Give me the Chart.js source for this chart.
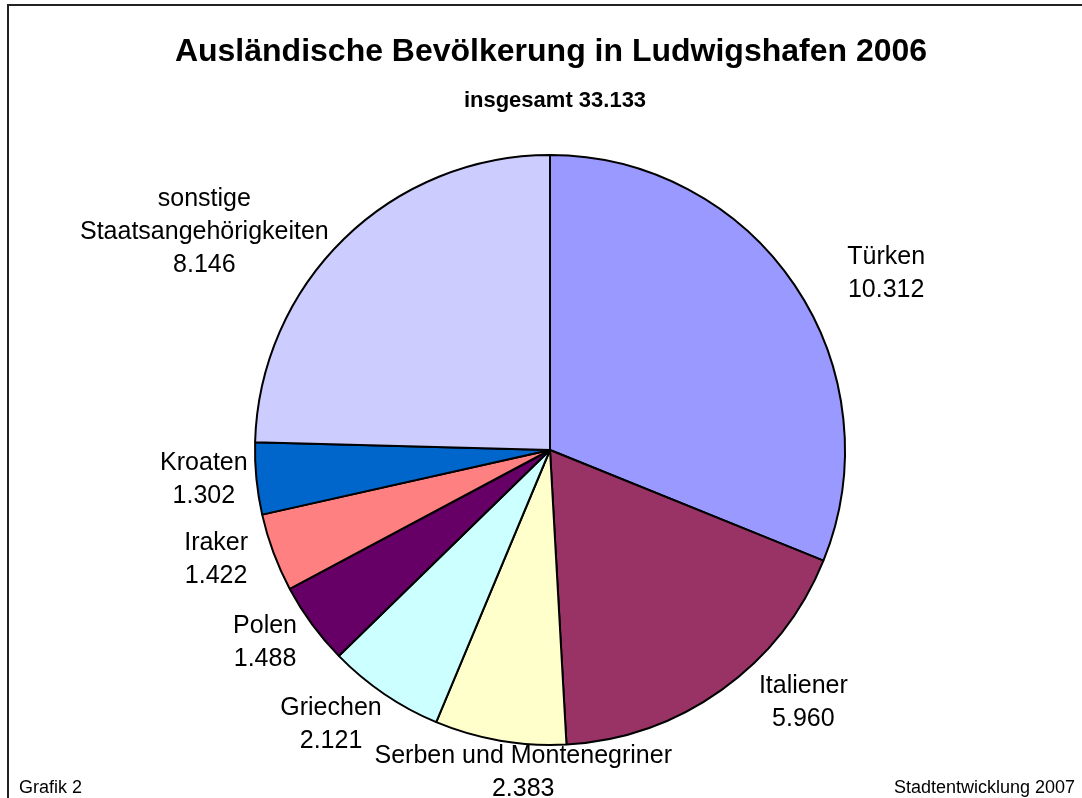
<!DOCTYPE html>
<html>
<head>
<meta charset="utf-8">
<script src="https://cdn.jsdelivr.net/npm/chart.js@4"></script>
<style>
  html, body { margin: 0; padding: 0; background: #fff; overflow: hidden; }
  canvas { display: block; }
</style>
</head>
<body>
<canvas id="chart" width="1082" height="798"></canvas>
<script>
const categories = [
  ["Türken"],
  ["Italiener"],
  ["Serben und Montenegriner"],
  ["Griechen"],
  ["Polen"],
  ["Iraker"],
  ["Kroaten"],
  ["sonstige", "Staatsangehörigkeiten"],
];
const values = [10312, 5960, 2383, 2121, 1488, 1422, 1302, 8146];
const colors = ["#9999FF", "#993366", "#FFFFCC", "#CCFFFF", "#660066", "#FF8080", "#0066CC", "#CCCCFF"];

const titleText = "Ausländische Bevölkerung in Ludwigshafen 2006";
const subtitleText = "insgesamt 33.133";
const footLeft = "Grafik 2";
const footRight = "Stadtentwicklung 2007";

const FONT = '"Liberation Sans", Arial, Helvetica, sans-serif';

// german thousands separator
const fmt = (n) => String(n).replace(/\B(?=(\d{3})+(?!\d))/g, ".");

// small hand nudges so labels sit where Excel put them
const labelNudge = [
  [51, 13], [50, -22], [50, -11], [-19, -5],
  [-13, -7], [-18, -8], [1, -3], [-46, 36],
];

const frameAndText = {
  id: "frameAndText",
  beforeDraw(chart) {
    const ctx = chart.ctx;
    ctx.save();
    ctx.fillStyle = "#fff";
    ctx.fillRect(0, 0, chart.width, chart.height);
    ctx.strokeStyle = "#222";
    ctx.lineWidth = 2;
    ctx.strokeRect(8, 5, 1200, 1000);
    ctx.restore();
  },
  afterDraw(chart) {
    const ctx = chart.ctx;
    ctx.save();
    ctx.fillStyle = "#000";
    ctx.textAlign = "center";
    ctx.textBaseline = "alphabetic";
    ctx.font = "bold 32px " + FONT;
    ctx.fillText(titleText, 551, 61);
    ctx.font = "bold 22px " + FONT;
    ctx.fillText(subtitleText, 555, 107);

    ctx.font = "18px " + FONT;
    ctx.textAlign = "left";
    ctx.fillText(footLeft, 19, 793);
    ctx.textAlign = "right";
    ctx.fillText(footRight, 1075, 793);
    ctx.restore();
  },
};

// labels outside the slices, placed from the arc geometry
const outsideLabels = {
  id: "outsideLabels",
  afterDatasetsDraw(chart) {
    const ctx = chart.ctx;
    const meta = chart.getDatasetMeta(0);
    const lineH = 33;
    const gap = 10;
    ctx.save();
    ctx.font = "25px " + FONT;
    ctx.fillStyle = "#000";
    ctx.textAlign = "center";
    ctx.textBaseline = "middle";
    meta.data.forEach((arc, i) => {
      const { x, y, startAngle, endAngle, outerRadius } = arc.getProps(
        ["x", "y", "startAngle", "endAngle", "outerRadius"], true);
      const mid = (startAngle + endAngle) / 2;
      const ux = Math.cos(mid);
      const uy = Math.sin(mid);
      const lines = [...chart.data.labels[i], fmt(values[i])];
      const w = Math.max(...lines.map((l) => ctx.measureText(l).width));
      const h = lines.length * lineH;
      const cx = x + (outerRadius + gap) * ux + (w / 2) * ux + labelNudge[i][0];
      const cy = y + (outerRadius + gap) * uy + (h / 2) * uy + labelNudge[i][1];
      lines.forEach((l, k) => {
        ctx.fillText(l, cx, cy - h / 2 + lineH * (k + 0.5));
      });
    });
    ctx.restore();
  },
};

new Chart(document.getElementById("chart"), {
  type: "pie",
  data: {
    labels: categories,
    datasets: [
      {
        data: values,
        backgroundColor: colors,
        borderColor: "#000",
        borderWidth: 2,
        radius: 295,
      },
    ],
  },
  options: {
    responsive: false,
    animation: false,
    devicePixelRatio: 1,
    layout: { padding: { left: 118, right: 100, top: 150, bottom: 48 } },
    plugins: {
      legend: { display: false },
      tooltip: { enabled: false },
    },
  },
  plugins: [frameAndText, outsideLabels],
});
</script>
</body>
</html>
